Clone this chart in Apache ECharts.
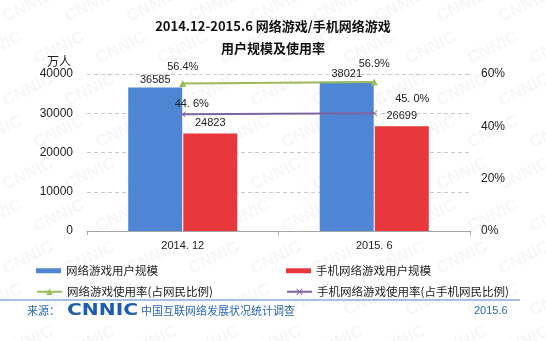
<!DOCTYPE html>
<html>
<head>
<meta charset="utf-8">
<script src="https://cdn.jsdelivr.net/npm/echarts@6/dist/echarts.min.js"></script>
<style>
  html, body { margin: 0; padding: 0; background: #fff; }
  #chart { width: 546px; height: 341px; }
</style>
</head>
<body>
<div id="chart"></div>
<script>
// Periods on the x axis
const categories = ['2014. 12', '2015. 6'];
// User counts (万人)
const gameUsers = [36585, 38021];
const mobileGameUsers = [24823, 26699];
// Usage rates (%)
const gameRate = [56.4, 56.9];
const mobileGameRate = [44.6, 45.0];
// Axis ticks
const userTicks = { min: 0, max: 40000, interval: 10000 };
const rateTicks = { min: 0, max: 60, interval: 20 };

const seriesNames = ['网络游戏用户规模', '手机网络游戏用户规模', '网络游戏使用率(占网民比例)', '手机网络游戏使用率(占手机网民比例)'];

const FONT = '"Liberation Sans", "Noto Sans CJK SC", sans-serif';
const CJK = '"Noto Sans CJK SC", "Liberation Sans", sans-serif';
const BLUE = '#4f86d3';
const RED = '#e8383b';
const GREEN = '#9bbb59';
const PURPLE = '#8064a2';
const CROSS = 'path://M0,1L1,0L5,4L9,0L10,1L6,5L10,9L9,10L5,6L1,10L0,9L4,5Z';

// label placement for each rate point
const greenLabelOffsets = [[0, -3], [0, -5]];
const purpleLabelOffsets = [[9, 2], [38, -2]];

function rateData(values, offsets, fmt) {
  return values.map((v, i) => ({
    value: v,
    label: { offset: offsets[i], formatter: fmt(v) }
  }));
}

// faint diagonal site mark tiled across the background
const watermarks = [];
for (let row = -1; row < 9; row++) {
  for (let col = -1; col < 10; col++) {
    watermarks.push({
      type: 'text',
      x: col * 62 + (row % 2) * 31,
      y: row * 42 + 10,
      rotation: Math.PI / 7,
      silent: true,
      z: -10,
      style: {
        text: 'CNNIC',
        font: 'bold 17px "Liberation Sans", sans-serif',
        fill: 'rgba(0,0,0,0.035)'
      }
    });
  }
}

const chart = echarts.init(document.getElementById('chart'), null, { renderer: 'canvas' });

const legendBase = {
  orient: 'vertical',
  textStyle: { fontFamily: CJK, fontSize: 11.5, color: '#222' },
  selectedMode: false
};

const titleStyle = { fontFamily: CJK, fontSize: 13, fontWeight: 'bold', color: '#111' };

chart.setOption({
  animation: false,
  backgroundColor: '#fff',
  textStyle: { fontFamily: FONT },
  title: [
    { text: '2014.12-2015.6 网络游戏/手机网络游戏', left: 'center', top: 15, textStyle: titleStyle },
    { text: '用户规模及使用率', left: 'center', top: 37, textStyle: titleStyle }
  ],
  legend: [
    Object.assign({}, legendBase, { data: [seriesNames[0]], left: 31, top: 260, itemWidth: 25, itemHeight: 5, icon: 'rect' }),
    Object.assign({}, legendBase, { data: [seriesNames[1]], left: 281, top: 260, itemWidth: 25, itemHeight: 5, icon: 'rect' }),
    Object.assign({}, legendBase, { data: [seriesNames[2]], left: 31, top: 281, itemWidth: 25, itemHeight: 8 }),
    Object.assign({}, legendBase, { data: [seriesNames[3]], left: 281, top: 281, itemWidth: 25, itemHeight: 8 })
  ],
  grid: { left: 87, right: 76, top: 74, bottom: 110 },
  xAxis: {
    type: 'category',
    data: categories,
    axisLine: { lineStyle: { color: '#a6a6a6', width: 1 } },
    axisTick: { show: true, length: 4, lineStyle: { color: '#a6a6a6' } },
    axisLabel: { color: '#222', fontSize: 11, margin: 9, fontFamily: FONT }
  },
  yAxis: [
    {
      type: 'value',
      min: userTicks.min, max: userTicks.max, interval: userTicks.interval,
      name: '万人',
      nameLocation: 'end',
      nameGap: 7,
      nameTextStyle: { fontFamily: CJK, fontSize: 12, color: '#222', align: 'right', padding: [0, 16, 0, 0] },
      axisLine: { show: false },
      axisTick: { show: false },
      axisLabel: { color: '#222', fontSize: 12, margin: 14, fontFamily: FONT, formatter: v => String(v) },
      splitLine: { lineStyle: { color: '#c8c8c8', type: [4, 3] } }
    },
    {
      type: 'value',
      min: rateTicks.min, max: rateTicks.max, interval: rateTicks.interval,
      axisLine: { show: false },
      axisTick: { show: false },
      axisLabel: { color: '#222', fontSize: 12, margin: 11, fontFamily: FONT, formatter: v => v + '%' },
      splitLine: { show: false }
    }
  ],
  series: [
    {
      name: seriesNames[0],
      type: 'bar',
      data: gameUsers,
      barWidth: 54,
      barGap: '2%',
      itemStyle: { color: BLUE },
      label: { show: true, position: 'top', distance: 2, color: '#222', fontSize: 11, fontFamily: FONT }
    },
    {
      name: seriesNames[1],
      type: 'bar',
      data: mobileGameUsers,
      barWidth: 54,
      barGap: '2%',
      itemStyle: { color: RED },
      label: { show: true, position: 'top', distance: 5, color: '#222', fontSize: 11, fontFamily: FONT }
    },
    {
      name: seriesNames[2],
      type: 'line',
      yAxisIndex: 1,
      data: rateData(gameRate, greenLabelOffsets, v => v.toFixed(1) + '%'),
      symbol: 'triangle',
      symbolSize: 7,
      lineStyle: { color: GREEN, width: 2 },
      itemStyle: { color: GREEN },
      label: { show: true, position: 'top', distance: 4, color: '#222', fontSize: 11, fontFamily: FONT },
      z: 5
    },
    {
      name: seriesNames[3],
      type: 'line',
      yAxisIndex: 1,
      data: rateData(mobileGameRate, purpleLabelOffsets, v => v.toFixed(1).replace('.', '. ') + '%'),
      symbol: CROSS,
      symbolSize: 6,
      lineStyle: { color: PURPLE, width: 2 },
      itemStyle: { color: PURPLE },
      label: { show: true, position: 'top', distance: 4, color: '#222', fontSize: 11, fontFamily: FONT },
      z: 5
    }
  ],
  graphic: watermarks.concat([
    {
      type: 'line',
      shape: { x1: 0, y1: 300, x2: 520, y2: 300 },
      style: { stroke: '#4f86c6', lineWidth: 1.2 },
      silent: true
    },
    {
      type: 'text', x: 27, y: 305,
      style: { text: '来源：', font: '11px ' + CJK, fill: '#2b68b5' }
    },
    {
      type: 'text', x: 67, y: 304, scaleX: 1.35,
      style: { text: 'CNNIC', font: 'bold 15px "DejaVu Sans", sans-serif', fill: '#1e5cae' }
    },
    {
      type: 'text', x: 141, y: 305,
      style: { text: '中国互联网络发展状况统计调查', font: '11px ' + CJK, fill: '#2b68b5' }
    },
    {
      type: 'text', x: 474, y: 305,
      style: { text: '2015.6', font: '11px ' + FONT, fill: '#2b68b5' }
    }
  ])
});
</script>
</body>
</html>
